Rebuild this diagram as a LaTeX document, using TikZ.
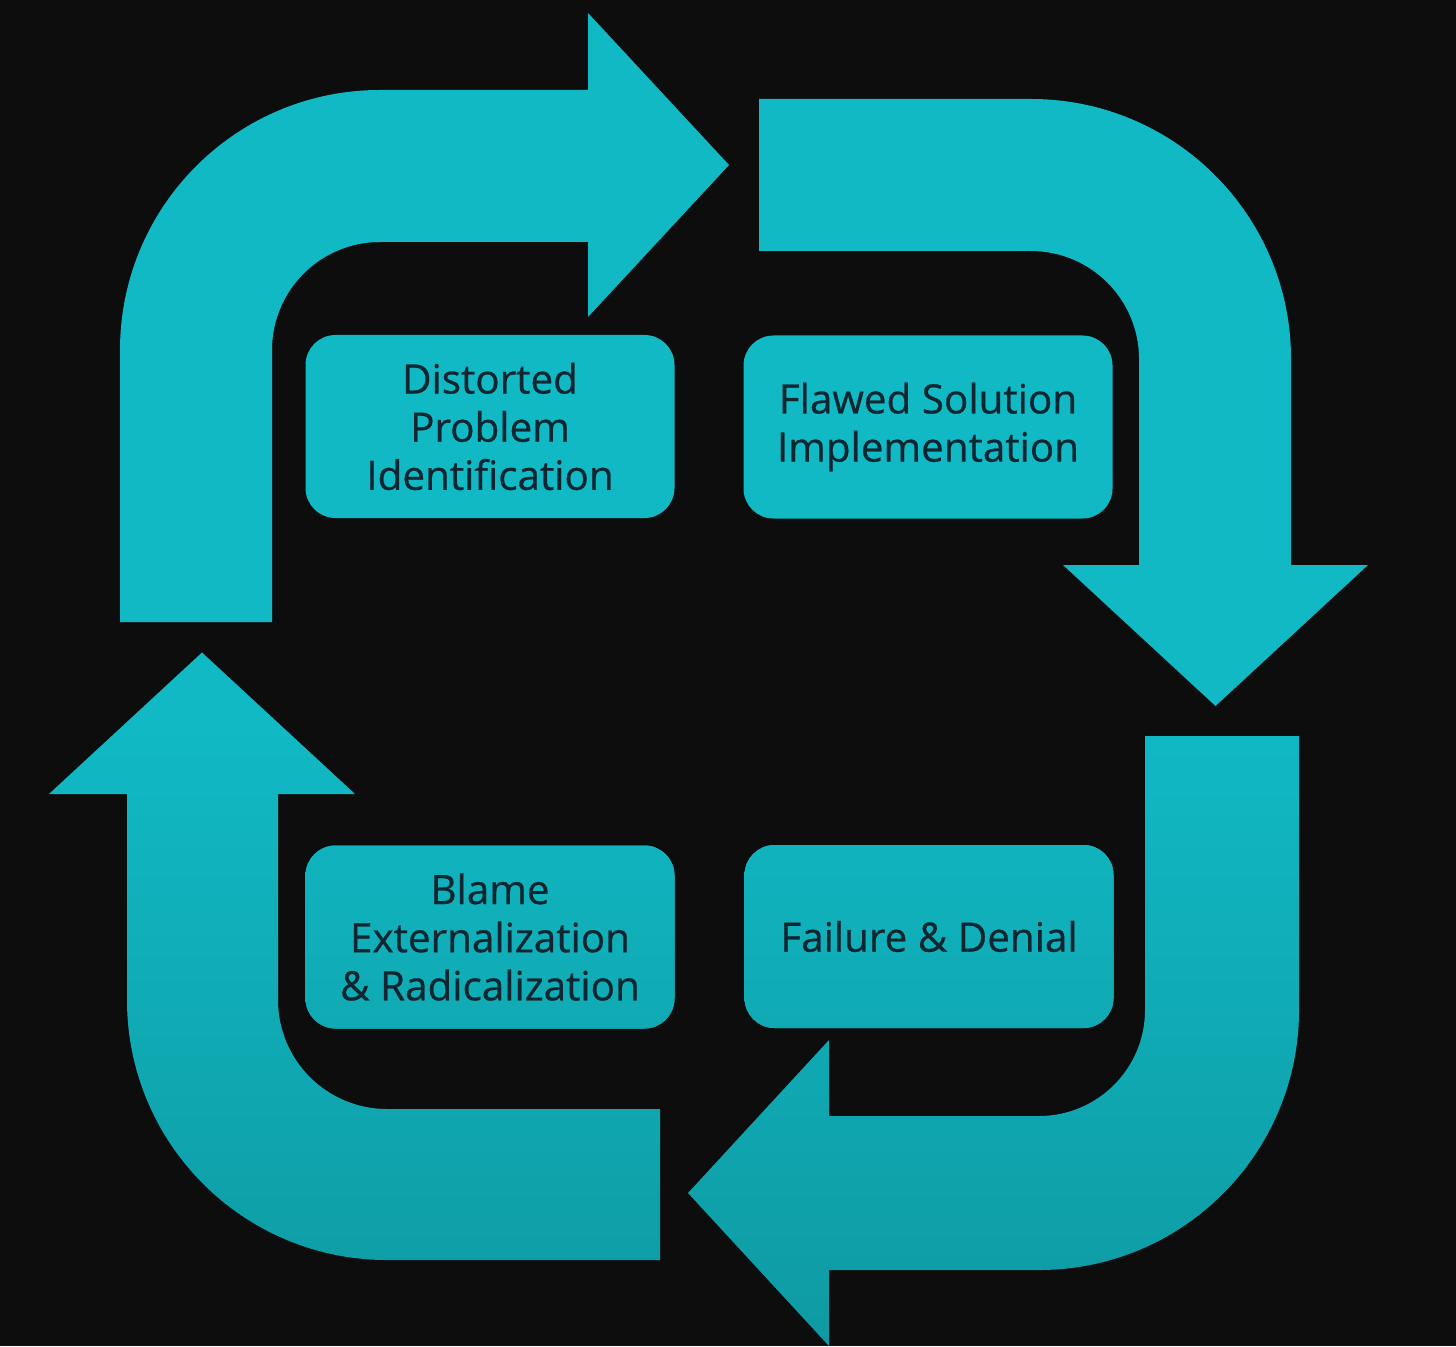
\documentclass[tikz,border=0pt]{standalone}
\usepackage{fontspec}
\newfontfamily\stagefont{Open Sans}[FakeBold=0.6]
\definecolor{bgdark}{HTML}{0D0D0E}
\definecolor{tealtop}{HTML}{10B9C4}
\definecolor{tealbot}{HTML}{0F9AA3}
\definecolor{labelink}{HTML}{0F2530}
\pgfdeclareverticalshading{tealfade}{100bp}{color(0bp)=(tealbot); color(25bp)=(tealbot); color(48bp)=(tealtop); color(100bp)=(tealtop)}
\tikzset{
  stagebox/.style={rounded corners=0.3cm, fill=tealtop, minimum width=3.69cm,
    minimum height=1.83cm, align=center, text=labelink, inner sep=0pt,
    font=\stagefont\fontsize{11.5}{13.7}\selectfont},
  lowbox/.style={stagebox, top color=tealtop!81!tealbot, bottom color=tealtop!51!tealbot}
}
\begin{document}
\begin{tikzpicture}
\useasboundingbox (0,0) rectangle (14.56,-13.46);
\fill [bgdark] (0,0) rectangle (14.56,-13.46);
% the four bent arrows, one shading over all of them
\begin{scope}
\clip (1.2,-6.22) -- (1.2,-3.5) arc[start angle=180,end angle=90,radius=2.6]
  -- (5.88,-0.9) -- (5.88,-0.13) -- (7.29,-1.65) -- (5.88,-3.17) -- (5.88,-2.42)
  -- (3.8,-2.42) arc[start angle=90,end angle=180,radius=1.08] -- (2.72,-6.22) -- cycle
  (7.59,-0.99) -- (10.31,-0.99) arc[start angle=90,end angle=0,radius=2.6]
  -- (12.91,-5.65) -- (13.68,-5.65) -- (12.155,-7.06) -- (10.63,-5.65) -- (11.39,-5.65)
  -- (11.39,-3.59) arc[start angle=0,end angle=90,radius=1.08] -- (7.59,-2.51) -- cycle
  (11.45,-7.36) -- (12.99,-7.36) -- (12.99,-10.1) arc[start angle=0,end angle=-90,radius=2.6]
  -- (8.29,-12.7) -- (8.29,-13.46) -- (6.88,-11.93) -- (8.29,-10.4) -- (8.29,-11.16)
  -- (10.39,-11.16) arc[start angle=-90,end angle=0,radius=1.06] -- cycle
  (6.6,-12.6) -- (3.87,-12.6) arc[start angle=270,end angle=180,radius=2.6]
  -- (1.27,-7.94) -- (0.49,-7.94) -- (2.02,-6.525) -- (3.55,-7.94) -- (2.78,-7.94)
  -- (2.78,-10.0) arc[start angle=180,end angle=270,radius=1.09] -- (6.6,-11.09) -- cycle;
\shade [shading=tealfade] (0,0) rectangle (14.56,-13.46);
\end{scope}
% stages
\draw (4.9,-4.265) node[stagebox] (distorted) {Distorted\\Problem\\Identification};
\draw (9.28,-4.27) node[stagebox] (flawed) {Flawed Solution\\Implementation};
\draw (4.9,-9.37) node[lowbox] (blame) {Blame\\Externalization\\\& Radicalization};
\draw (9.29,-9.365) node[lowbox] (failure) {Failure \& Denial};
\end{tikzpicture}
\end{document}
